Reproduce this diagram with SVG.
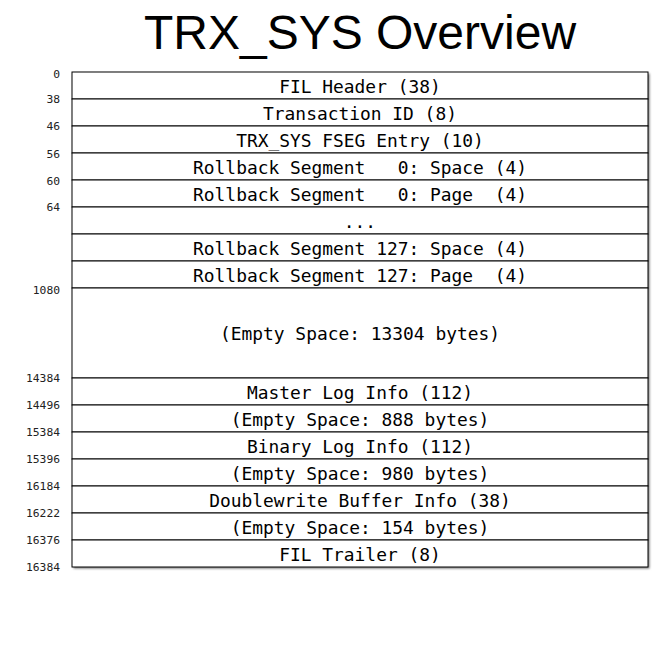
<svg xmlns="http://www.w3.org/2000/svg" width="671" height="648" viewBox="0 0 671 648">
  <defs>
    <filter id="shadow" x="-5%" y="-5%" width="110%" height="110%">
      <feDropShadow dx="1.5" dy="1.5" stdDeviation="1" flood-color="#000" flood-opacity="0.55"/>
    </filter>
  </defs>
  <style>
    .title { font-family: "Liberation Sans", Arial, sans-serif; font-size: 48px; fill: #000; }
    .cell { fill: #fff; stroke: #000; stroke-width: 1; }
    .label { font-family: "DejaVu Sans Mono", "Liberation Mono", monospace; font-size: 17.9px; fill: #000; text-anchor: middle; dominant-baseline: central; }
    .off { font-family: "DejaVu Sans Mono", "Liberation Mono", monospace; font-size: 11.3px; fill: #222; text-anchor: end; dominant-baseline: central; }
  </style>

  <text class="title" x="360" y="49" text-anchor="middle">TRX_SYS Overview</text>

  <!-- page outline with drop shadow -->
  <rect x="72" y="72" width="576" height="495" fill="#fff" filter="url(#shadow)"/>

  <g id="fil-header"><rect class="cell" x="72" y="72" width="576" height="27"/><text class="label" x="360" y="86.5">FIL Header (38)</text></g>
  <g id="trx-id"><rect class="cell" x="72" y="99" width="576" height="27"/><text class="label" x="360" y="113.5">Transaction ID (8)</text></g>
  <g id="fseg-entry"><rect class="cell" x="72" y="126" width="576" height="27"/><text class="label" x="360" y="140.5">TRX_SYS FSEG Entry (10)</text></g>
  <g id="rseg0-space"><rect class="cell" x="72" y="153" width="576" height="27"/><text class="label" x="360" y="167.5" xml:space="preserve">Rollback Segment   0: Space (4)</text></g>
  <g id="rseg0-page"><rect class="cell" x="72" y="180" width="576" height="27"/><text class="label" x="360" y="194.5" xml:space="preserve">Rollback Segment   0: Page  (4)</text></g>
  <g id="rseg-more"><rect class="cell" x="72" y="207" width="576" height="27"/><text class="label" x="360" y="221.5">...</text></g>
  <g id="rseg127-space"><rect class="cell" x="72" y="234" width="576" height="27"/><text class="label" x="360" y="248.5" xml:space="preserve">Rollback Segment 127: Space (4)</text></g>
  <g id="rseg127-page"><rect class="cell" x="72" y="261" width="576" height="27"/><text class="label" x="360" y="275.5" xml:space="preserve">Rollback Segment 127: Page  (4)</text></g>
  <g id="empty-1"><rect class="cell" x="72" y="288" width="576" height="90"/><text class="label" x="360" y="333.5">(Empty Space: 13304 bytes)</text></g>
  <g id="master-log"><rect class="cell" x="72" y="378" width="576" height="27"/><text class="label" x="360" y="392.5">Master Log Info (112)</text></g>
  <g id="empty-2"><rect class="cell" x="72" y="405" width="576" height="27"/><text class="label" x="360" y="419.5">(Empty Space: 888 bytes)</text></g>
  <g id="binary-log"><rect class="cell" x="72" y="432" width="576" height="27"/><text class="label" x="360" y="446.5">Binary Log Info (112)</text></g>
  <g id="empty-3"><rect class="cell" x="72" y="459" width="576" height="27"/><text class="label" x="360" y="473.5">(Empty Space: 980 bytes)</text></g>
  <g id="doublewrite"><rect class="cell" x="72" y="486" width="576" height="27"/><text class="label" x="360" y="500.5">Doublewrite Buffer Info (38)</text></g>
  <g id="empty-4"><rect class="cell" x="72" y="513" width="576" height="27"/><text class="label" x="360" y="527.5">(Empty Space: 154 bytes)</text></g>
  <g id="fil-trailer"><rect class="cell" x="72" y="540" width="576" height="27"/><text class="label" x="360" y="554.5">FIL Trailer (8)</text></g>

  <!-- byte offsets -->
  <g id="offsets">
    <text class="off" x="60" y="74">0</text>
    <text class="off" x="60" y="99">38</text>
    <text class="off" x="60" y="126">46</text>
    <text class="off" x="60" y="154">56</text>
    <text class="off" x="60" y="181">60</text>
    <text class="off" x="60" y="207">64</text>
    <text class="off" x="60" y="290">1080</text>
    <text class="off" x="60" y="378">14384</text>
    <text class="off" x="60" y="405">14496</text>
    <text class="off" x="60" y="432">15384</text>
    <text class="off" x="60" y="459">15396</text>
    <text class="off" x="60" y="486">16184</text>
    <text class="off" x="60" y="513">16222</text>
    <text class="off" x="60" y="540">16376</text>
    <text class="off" x="60" y="567">16384</text>
  </g>
</svg>
